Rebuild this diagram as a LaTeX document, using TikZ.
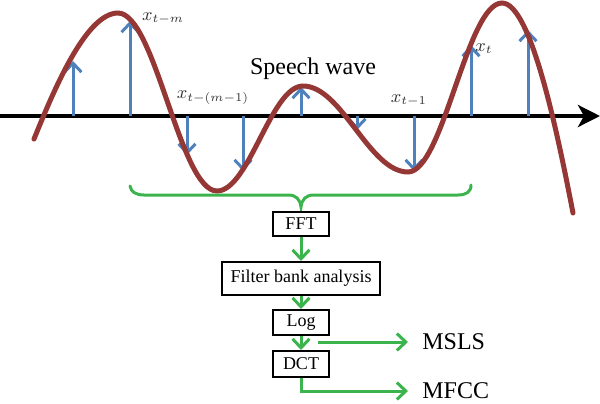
\documentclass[tikz,border=0pt]{standalone}
\usepackage{fontspec}
\setmainfont{Liberation Serif}
\usetikzlibrary{arrows.meta}
\definecolor{wavered}{HTML}{953735}
\definecolor{stemblue}{HTML}{4F81BD}
\definecolor{flowgreen}{HTML}{3CB44E}
\definecolor{labelgray}{HTML}{333333}
\tikzset{
  stem/.style={stemblue, line width=1.5pt, -{Straight Barb[length=4.5pt,width=8.5pt,line width=1.5pt]}},
  flow/.style={flowgreen, line width=1.5pt, -{Straight Barb[length=4.5pt,width=8.5pt,line width=1.5pt]}},
  stepbox/.style={draw=black, line width=1pt, fill=white, minimum height=12pt, inner sep=0pt, font=\fontsize{9}{10}\selectfont},
  xlabel/.style={text=labelgray, font=\fontsize{9}{10}\selectfont, inner sep=0pt},
  outlabel/.style={font=\fontsize{12}{13}\selectfont, inner sep=0pt, anchor=west}
}
\begin{document}
\begin{tikzpicture}[x=0.5pt,y=-0.5pt]
\useasboundingbox (0,0) rectangle (600,403);
% axis
\draw[line width=2pt, -{Stealth[length=11pt,width=11pt,inset=3pt]}] (0,116) -- (600,116);
% stems
\draw[stem] (73,116) -- (73,61);
\draw[stem] (130,116) -- (130,21);
\draw[stem] (187,116) -- (187,155);
\draw[stem] (243,116) -- (243,171);
\draw[stem] (301,116) -- (301,87);
\draw[stem] (357,116) -- (357,130);
\draw[stem] (414,116) -- (414,171);
\draw[stem] (471,116) -- (471,45);
\draw[stem] (528,116) -- (528,30);
% wave
\draw[wavered, line width=2.5pt, line cap=round]
  (34,139) .. controls (52,95) and (85,13) .. (118,13)
  .. controls (155,13) and (180,191) .. (217,191)
  .. controls (249,191) and (271,86) .. (303,86)
  .. controls (342,86) and (369,172) .. (408,172)
  .. controls (443,172) and (467,3) .. (502,3)
  .. controls (530,3) and (556,125) .. (573,213);
% labels
\node[xlabel] (lm) at (163,18) {$x_{t-m}$};
\node[xlabel] (lm1) at (213,98) {$x_{t-(m-1)}$};
\node[xlabel] (l1) at (409,100) {$x_{t-1}$};
\node[xlabel] (lt) at (484,49) {$x_t$};
\node[font=\fontsize{12}{13}\selectfont, inner sep=0pt] (sw) at (313,69) {Speech wave};
% brace
\draw[flowgreen, line width=1.5pt, line cap=round]
  (130,186) .. controls (131,192) and (136,195) .. (144,195)
  -- (288,195) .. controls (296,195) and (300,199) .. (301,207)
  .. controls (302,199) and (306,195) .. (314,195)
  -- (458,195) .. controls (466,195) and (471,192) .. (471,185);
% boxes
\node[stepbox, minimum width=28pt, minimum height=12pt] (fft) at (301,224) {FFT};
\node[stepbox, minimum width=79pt, minimum height=16.5pt] (fba) at (301,278.5) {Filter bank analysis};
\node[stepbox, minimum width=28pt, minimum height=12.5pt] (log) at (301,322.5) {Log};
\node[stepbox, minimum width=28pt, minimum height=13pt] (dct) at (301,364) {DCT};
\draw[flow] (fft) -- (fba);
\draw[flow] (fba) -- (log);
\draw[flow] (log) -- (dct);
% outputs
\node[outlabel] (msls) at (422,342) {MSLS};
\node[outlabel] (mfcc) at (422,391) {MFCC};
\coordinate (mslsstart) at (318,342);
\draw[flow, shorten >=7pt] (mslsstart) -- (msls.west);
\draw[flow, shorten >=7pt] (dct.south) |- (mfcc.west);
\end{tikzpicture}
\end{document}
